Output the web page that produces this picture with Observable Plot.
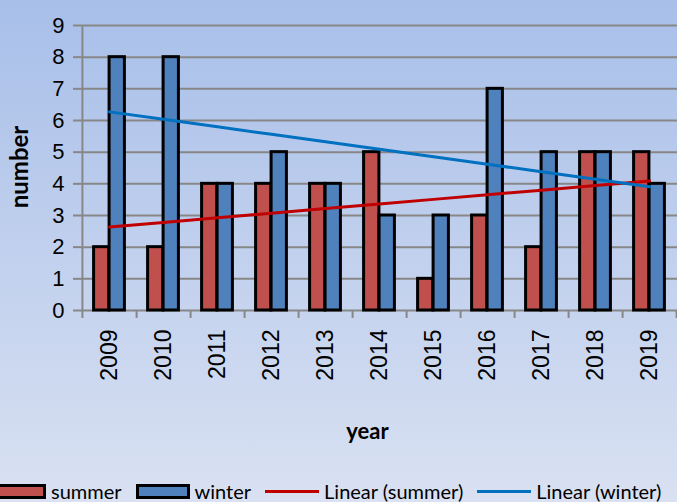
<!DOCTYPE html>
<html><head><meta charset="utf-8">
<script src="https://cdn.jsdelivr.net/npm/d3@7"></script>
<script src="https://cdn.jsdelivr.net/npm/@observablehq/plot@0.6"></script>
<style>
html,body{margin:0;padding:0;}
body{width:677px;height:502px;overflow:hidden;position:relative;background:linear-gradient(#A8BFE9,#D9E1F2);}
#legend{position:absolute;left:-8px;top:479px;height:24px;display:flex;align-items:center;font-family:Lato,"Open Sans",sans-serif;font-size:20px;color:#000;white-space:nowrap;}
.sw{width:48px;height:9px;border:3px solid #000;margin-right:5px;}
.ln{width:54px;height:3px;margin-right:5px;}
.lab{margin-right:14px;}
</style></head><body><div id="chart"></div><div id="legend"></div>
<script>
const years = ["2009","2010","2011","2012","2013","2014","2015","2016","2017","2018","2019"];
const summer = [2,2,4,4,4,5,1,3,2,5,5];
const winter = [8,8,4,5,4,3,3,7,5,5,4];
const yTicks = [0,1,2,3,4,5,6,7,8,9];
const legendLabels = ["summer","winter","Linear (summer)","Linear (winter)"];
const colors = {summer:"#C0504D", winter:"#4F81BD", lsummer:"#C00000", lwinter:"#0070C0"};

const W = 677, H = 460, mL = 81, mR = 0, mT = 25, mB = 150;
const bw = (W - mL - mR) / years.length;
const barW = 15.5;
const outer = bw / 2 - barW;

const data = years.map((year, i) => ({year, summer: summer[i], winter: winter[i]}));

function trend(vals) {
  const n = vals.length, xm = (n - 1) / 2, ym = d3.mean(vals);
  let sxy = 0, sxx = 0;
  vals.forEach((v, i) => { sxy += (i - xm) * (v - ym); sxx += (i - xm) ** 2; });
  const b = sxy / sxx;
  return years.map((year, i) => ({year, value: ym + b * (i - xm)}));
}

const grid = "#878787";
const chart = Plot.plot({
  width: W, height: H,
  marginLeft: mL, marginRight: mR, marginTop: mT, marginBottom: mB,
  style: {background: "transparent", fontFamily: "'Liberation Sans', Arial, sans-serif", overflow: "visible"},
  x: {type: "band", domain: years, padding: 0},
  y: {domain: [0, 9]},
  marks: [
    Plot.ruleY(yTicks, {stroke: grid, strokeWidth: 2}),
    Plot.ruleX([years[0]], {dx: -bw / 2, y1: -0.25, y2: 9, stroke: grid, strokeWidth: 2}),
    Plot.ruleX(years, {dx: bw / 2, y1: -0.25, y2: 0, stroke: grid, strokeWidth: 2}),
    Plot.axisY({ticks: yTicks, tickSize: 8, tickPadding: 9, fontSize: 22, stroke: grid, strokeWidth: 2, label: null, color: grid, fill: "black"}),
    Plot.axisX({tickSize: 0, tickRotate: -90, tickPadding: 19, fontSize: 23, label: null, fill: "black"}),
    Plot.barY(data, {x: "year", y: "summer", fill: colors.summer, stroke: "black", strokeWidth: 3, insetLeft: outer, insetRight: bw / 2}),
    Plot.barY(data, {x: "year", y: "winter", fill: colors.winter, stroke: "black", strokeWidth: 3, insetLeft: bw / 2, insetRight: outer}),
    Plot.line(trend(summer), {x: "year", y: "value", stroke: colors.lsummer, strokeWidth: 3}),
    Plot.line(trend(winter), {x: "year", y: "value", stroke: colors.lwinter, strokeWidth: 3}),
    Plot.text(["number"], {frameAnchor: "left", textAnchor: "middle", dx: -61, dy: -1, rotate: -90, fontSize: 24, fontWeight: "bold", fontFamily: "Lato, sans-serif"}),
    Plot.text(["year"], {frameAnchor: "bottom", dx: -12, dy: 128, fontSize: 22, fontWeight: "bold", fontFamily: "Lato, sans-serif"})
  ]
});
document.getElementById("chart").appendChild(chart);

const lg = document.getElementById("legend");
const items = [
  {kind: "sw", color: colors.summer},
  {kind: "sw", color: colors.winter},
  {kind: "ln", color: colors.lsummer},
  {kind: "ln", color: colors.lwinter}
];
items.forEach((it, i) => {
  const s = document.createElement("span");
  s.className = it.kind;
  s.style.background = it.color;
  lg.appendChild(s);
  const t = document.createElement("span");
  t.className = "lab";
  t.textContent = legendLabels[i];
  lg.appendChild(t);
});
</script></body></html>
